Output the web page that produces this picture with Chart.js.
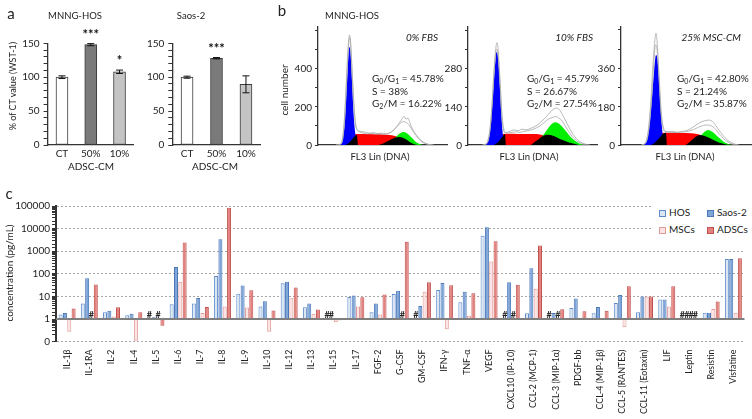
<!DOCTYPE html>
<html>
<head>
<meta charset="utf-8">
<script src="https://cdn.jsdelivr.net/npm/chart.js@4.4.0/dist/chart.umd.min.js"></script>
<style>
  body { margin: 0; width: 752px; height: 419px; overflow: hidden; background: #fff; position: relative; font-family: Lato, sans-serif; color: #222; }
  .box { position: absolute; }
  .t { position: absolute; white-space: nowrap; font-size: 10px; line-height: 1; transform: translate(-50%, -50%); }
  .l { transform: translate(0, -50%); }
  .r { transform: translate(-100%, -50%); }
  .rot { transform: translate(-50%, -50%) rotate(-90deg); }
  .p { font-size: 15px; }
  .i { font-style: italic; }
  .tick { z-index: 10; }
  sub { font-size: 7px; vertical-align: -2px; }
  .leg { position: absolute; font-size: 10px; line-height: 1; }
  .leg span { display: inline-block; width: 5px; height: 5px; border: 1px solid; margin-right: 3px; vertical-align: -1px; }
</style>
</head>
<body>

<div class="box" style="left:0;top:0"><canvas id="wstHos" width="140" height="175"></canvas></div>
<div class="box" style="left:130px;top:0"><canvas id="wstSaos" width="140" height="175"></canvas></div>
<div class="box" style="left:280px;top:0"><canvas id="hist1" width="175" height="170"></canvas></div>
<div class="box" style="left:430px;top:0"><canvas id="hist2" width="175" height="170"></canvas></div>
<div class="box" style="left:583px;top:0"><canvas id="hist3" width="175" height="170"></canvas></div>
<div class="box" style="left:0;top:190px"><canvas id="cyto" width="752" height="229"></canvas></div>

<!-- panel a -->
<div class="t p" style="left:11px;top:13px">a</div>
<div class="t" style="left:75px;top:16px;font-size:9.5px">MNNG-HOS</div>
<div class="t" style="left:191px;top:16px;font-size:9.5px">Saos-2</div>
<div class="t rot" style="left:12px;top:86px;font-size:9px">% of CT value (WST-1)</div>
<div class="t" style="left:91px;top:166px">ADSC-CM</div>
<div class="t" style="left:215px;top:166px">ADSC-CM</div>

<!-- panel b -->
<div class="t p" style="left:282px;top:10px">b</div>
<div class="t" style="left:352px;top:16px;font-size:9.5px">MNNG-HOS</div>
<div class="t rot" style="left:284px;top:90px">cell number</div>
<div class="t r i" style="left:438px;top:37px">0% FBS</div>
<div class="t r i" style="left:593px;top:37px">10% FBS</div>
<div class="t r i" style="left:741px;top:37px">25% MSC-CM</div>
<div class="t l" style="left:372px;top:79px">G<sub>0</sub>/G<sub>1</sub> = 45.78%</div>
<div class="t l" style="left:372px;top:91px">S = 38%</div>
<div class="t l" style="left:372px;top:104px">G<sub>2</sub>/M = 16.22%</div>
<div class="t l" style="left:527px;top:79px">G<sub>0</sub>/G<sub>1</sub> = 45.79%</div>
<div class="t l" style="left:527px;top:91px">S = 26.67%</div>
<div class="t l" style="left:527px;top:104px">G<sub>2</sub>/M = 27.54%</div>
<div class="t l" style="left:677px;top:79px">G<sub>0</sub>/G<sub>1</sub> = 42.80%</div>
<div class="t l" style="left:677px;top:91px">S = 21.24%</div>
<div class="t l" style="left:677px;top:104px">G<sub>2</sub>/M = 35.87%</div>
<div class="t" style="left:380px;top:157px;font-size:9.5px">FL3 Lin (DNA)</div>
<div class="t" style="left:529px;top:157px;font-size:9.5px">FL3 Lin (DNA)</div>
<div class="t" style="left:685px;top:157px;font-size:9.5px">FL3 Lin (DNA)</div>

<!-- panel c -->
<div class="t p" style="left:9px;top:193px">c</div>
<div class="t rot" style="left:9px;top:273px">concentration (pg/mL)</div>
<div style="position:absolute;left:653px;top:201px;width:99px;height:38px;background:#fff"></div>
<div class="leg" style="left:659px;top:207px"><span style="background:#dce6f2;border-color:#5d8ccc"></span>HOS</div>
<div class="leg" style="left:707px;top:207px"><span style="background:#7ea4d8;border-color:#4a78b8"></span>Saos-2</div>
<div class="leg" style="left:659px;top:224px"><span style="background:#fbe4e3;border-color:#e09a97"></span>MSCs</div>
<div class="leg" style="left:707px;top:224px"><span style="background:#e2827f;border-color:#c0504d"></span>ADSCs</div>

<script>
Chart.defaults.font.family = 'Lato, sans-serif';
Chart.defaults.font.size = 10;
Chart.defaults.color = '#222';
Chart.defaults.animation = false;
Chart.defaults.plugins.legend.display = false;
Chart.defaults.plugins.tooltip.enabled = false;

// panel a: WST-1 viability
const wstLabels = ['CT', '50%', '10%'];
const wstTicks = [0, 50, 100, 150];
const hosWst = [100, 148, 108];
const hosWstErr = [2, 1.5, 2.5];
const hosWstSig = ['', '***', '*'];
const saosWst = [100, 128, 89.5];
const saosWstErr = [1.5, 1, 12.5];
const saosWstSig = ['', '***', ''];

// panel b: cell cycle histograms, [channel, count]
const hist1Ticks = [0, 200, 400];
const hist1Grey1 = [[18,0],[22,3],[24,25],[26,110],[28,300],[30,500],[31.5,575],[32.5,540],[34,380],[36,190],[38,95],[40,75],[44,70],[48,66],[52,62],[56,64],[60,60],[64,62],[68,58],[72,64],[76,78],[80,105],[83,128],[86,150],[88,135],[90,140],[93,100],[96,70],[100,40],[104,20],[108,8],[112,2],[116,0]];
const hist1Grey2 = [[18,0],[23,5],[25,40],[27,160],[29,380],[31,545],[32,560],[33,500],[35,300],[37,140],[39,80],[42,68],[46,60],[50,58],[54,61],[58,57],[62,59],[66,55],[70,60],[74,70],[78,92],[82,112],[85,122],[88,118],[91,105],[94,80],[98,50],[102,25],[106,10],[110,3],[114,0]];
const hist1Black = [[27,0],[31,12],[35,35],[39,54],[40,0],[60,0],[66,10],[72,26],[77,38],[81,42],[85,38],[89,26],[93,12],[97,3],[100,0]];
const hist1Blue = [[21,0],[23,4],[25,30],[27,130],[29,320],[30.5,470],[31.5,513],[32.5,480],[34,330],[35.5,170],[37,70],[38.5,20],[40,0]];
const hist1Green = [[70,0],[74,18],[78,42],[81,58],[84,67],[86,68],[88,64],[91,52],[94,36],[97,20],[100,9],[103,2],[105,0]];
const hist1Red = [[33,0],[35,56],[45,57],[55,56],[65,55],[72,52],[78,46],[84,36],[90,20],[96,6],[100,0]];

const hist2Ticks = [0, 140, 280];
const hist2Grey1 = [[14,0],[18,4],[20,20],[22,60],[24,150],[26,270],[28,360],[29,374],[30,355],[32,240],[34,110],[36,55],[38,45],[42,50],[46,55],[50,52],[54,58],[58,55],[62,60],[66,66],[70,75],[74,88],[78,102],[82,120],[86,132],[89,135],[92,126],[96,100],[100,72],[104,45],[108,25],[112,12],[116,5],[120,1],[122,0]];
const hist2Grey2 = [[15,0],[19,6],[21,30],[23,90],[25,200],[27,310],[28.5,350],[30,330],[32,220],[34,100],[36,48],[40,44],[44,46],[48,48],[52,46],[56,50],[60,52],[64,56],[68,62],[72,70],[76,82],[80,94],[84,100],[88,104],[91,98],[94,88],[98,65],[102,42],[106,24],[110,12],[114,4],[118,0]];
const hist2Black = [[26,0],[30,10],[34,28],[37,40],[38,0],[62,0],[67,12],[72,26],[76,35],[80,37],[85,34],[90,26],[96,16],[102,8],[108,3],[112,0]];
const hist2Blue = [[17,0],[19,5],[21,25],[23,80],[25,180],[27,290],[28.5,340],[30,320],[31.5,240],[33,130],[34.5,50],[36,10],[37,0]];
const hist2Green = [[66,0],[70,12],[74,30],[78,50],[82,70],[85,80],[87,83],[90,80],[94,68],[98,50],[102,32],[106,18],[110,8],[114,2],[117,0]];
const hist2Red = [[32,0],[35,40],[45,41],[55,40],[65,40],[72,38],[78,32],[84,24],[90,12],[96,4],[100,0]];

const hist3Ticks = [0, 180, 360];
const hist3Grey1 = [[20,0],[24,8],[26,35],[28,100],[30,220],[32,380],[34,500],[35,525],[36,490],[38,330],[40,170],[42,90],[44,65],[48,62],[52,64],[56,60],[60,63],[64,66],[68,72],[72,84],[76,96],[80,108],[84,114],[88,117],[91,112],[94,96],[98,70],[102,45],[106,25],[110,12],[114,4],[118,0]];
const hist3Grey2 = [[21,0],[25,12],[27,45],[29,125],[31,250],[33,400],[34.5,470],[36,450],[38,310],[40,150],[42,80],[45,62],[50,60],[55,58],[60,60],[65,62],[70,68],[75,78],[80,88],[85,94],[89,92],[93,82],[97,60],[101,38],[105,20],[109,8],[113,2],[116,0]];
const hist3Black = [[30,0],[34,12],[38,32],[42,52],[45,57],[46,0],[64,0],[68,12],[72,28],[76,42],[79,47],[83,44],[88,34],[93,22],[98,12],[103,5],[108,1],[110,0]];
const hist3Blue = [[22,0],[25,10],[27,40],[29,110],[31,220],[33,340],[35,423],[36.5,400],[38,300],[39.5,180],[41,80],[42.5,25],[44,0]];
const hist3Green = [[72,0],[76,20],[80,45],[84,63],[87,70],[90,66],[94,52],[98,34],[102,18],[106,7],[110,1],[112,0]];
const hist3Red = [[36,0],[40,56],[50,57],[60,56],[70,55],[76,52],[82,44],[88,32],[94,18],[100,6],[104,0]];

// panel c: cytokine concentrations (pg/mL), null = not detected (#)
const cytokines = ['IL-1β','IL-1RA','IL-2','IL-4','IL-5','IL-6','IL-7','IL-8','IL-9','IL-10','IL-12','IL-13','IL-15','IL-17','FGF-2','G-CSF','GM-CSF','IFN-γ','TNF-α','VEGF','CXCL10 (IP-10)','CCL-2 (MCP-1)','CCL-3 (MIP-1α)','PDGF-bb','CCL-4 (MIP-1β)','CCL-5 (RANTES)','CCL-11 (Eotaxin)','LIF','Leptin','Resistin','Visfatine'];
const hosConc = [1.6, 4.9, 2.0, 1.45, null, 4.5, 4.9, 80, 13, 3.6, 38, 3.3, null, 9.4, 2.0, 12.8, null, 19, 5.5, 4800, null, 1.8, null, 3.1, 1.8, 5.1, 2.0, 7.2, null, 1.9, 455];
const saosConc = [1.85, 63, 2.3, 1.7, 1.2, 200, 8.5, 3400, 30, 6.1, 45, 4.9, null, 11, 4.8, 18, 3.8, 39, 16, 11500, 42, 175, 1.85, 8, 3.4, 11.6, 10, 7.2, null, 1.9, 455];
const mscConc = [0.27, null, 1.3, 0.11, null, 45, 1.85, 3.6, 3.2, 0.27, 8.3, 1.7, 0.71, 3.6, 1.6, null, 16, 0.35, 1.4, 350, null, 22, null, 1.15, 1.1, 0.43, 10, 3.6, null, 2.8, 1.9];
const adscConc = [2.9, 34, 3.3, 2.0, 0.5, 2400, 3.4, 83000, 18.6, 2.4, 25, 2.6, 0.87, 9.1, 12, 2600, 42, 31, 13.7, 2750, 33, 1780, 2.7, 2.2, 2.3, 28, 10, 28, null, 5.9, 490];
const concTickValues = [0.1, 1, 10, 100, 1000, 10000, 100000];
const concTickLabels = ['0', '1', '10', '100', '1000', '10000', '100000'];

const AXIS = '#333';

function errorBars(errs, sig) {
  return {
    id: 'errorBars',
    afterDatasetsDraw(chart) {
      const ctx = chart.ctx;
      const y = chart.scales.y;
      const vals = chart.data.datasets[0].data;
      ctx.save();
      ctx.strokeStyle = '#111';
      ctx.lineWidth = 1;
      chart.getDatasetMeta(0).data.forEach((bar, i) => {
        const hi = y.getPixelForValue(vals[i] + errs[i]);
        const lo = y.getPixelForValue(vals[i] - errs[i]);
        ctx.beginPath();
        ctx.moveTo(bar.x, hi); ctx.lineTo(bar.x, lo);
        ctx.moveTo(bar.x - 3.5, hi); ctx.lineTo(bar.x + 3.5, hi);
        ctx.moveTo(bar.x - 3.5, lo); ctx.lineTo(bar.x + 3.5, lo);
        ctx.stroke();
        if (sig[i]) {
          ctx.fillStyle = '#111';
          ctx.font = 'bold 13px Lato';
          ctx.textAlign = 'center';
          ctx.textBaseline = 'alphabetic';
          ctx.fillText(sig[i], bar.x, hi - 5);
        }
      });
      ctx.restore();
    }
  };
}

function wstChart(id, values, errs, sig, yWidth, rightPad) {
  new Chart(document.getElementById(id), {
    type: 'bar',
    data: {
      labels: wstLabels,
      datasets: [{
        data: values,
        backgroundColor: ['#ffffff', '#7a7a7a', '#c4c4c4'],
        borderColor: '#3a3a3a',
        borderWidth: 1,
        borderSkipped: false,
        barThickness: 12
      }]
    },
    options: {
      responsive: false,
      layout: { padding: { top: 43.3, right: rightPad } },
      scales: {
        x: {
          grid: { display: false, drawTicks: false },
          border: { color: AXIS, width: 1.3 },
          ticks: { padding: 3, maxRotation: 0, minRotation: 0, autoSkip: false },
          afterFit: s => { s.height = 30; }
        },
        y: {
          min: 0, max: 150,
          grid: { drawOnChartArea: false, tickLength: 4, tickColor: AXIS },
          border: { color: AXIS, width: 1.3 },
          ticks: { stepSize: 10, autoSkip: false, padding: 4, callback: v => wstTicks.includes(v) ? String(v) : '' },
          afterFit: s => { s.width = yWidth; }
        }
      }
    },
    plugins: [errorBars(errs, sig)]
  });
}

wstChart('wstHos', hosWst, hosWstErr, hosWstSig, 47.6, 6.1);
wstChart('wstSaos', saosWst, saosWstErr, saosWstSig, 42.3, 9.3);

function area(pts, color) {
  return {
    data: pts.map(p => ({ x: p[0], y: p[1] })),
    backgroundColor: color, borderColor: color, borderWidth: 0,
    fill: 'origin', pointRadius: 0, cubicInterpolationMode: 'monotone'
  };
}
function trace(pts) {
  return {
    data: pts.map(p => ({ x: p[0], y: p[1] })),
    borderColor: '#a9a9a9', borderWidth: 0.8,
    fill: false, pointRadius: 0, cubicInterpolationMode: 'monotone'
  };
}

function histChart(id, boxLeft, grey1, grey2, black, blue, green, red, yMax, step, tickLabels, xMax, rightPad) {
  const chart = new Chart(document.getElementById(id), {
    type: 'line',
    data: {
      datasets: [trace(grey1), trace(grey2), area(black, '#000000'), area(blue, '#0000ff'),
                 area(green, '#00ee00'), area(red, '#ff0000')]
    },
    options: {
      responsive: false,
      layout: { padding: { top: 27, right: rightPad } },
      scales: {
        x: {
          type: 'linear', min: 0, max: xMax,
          grid: { display: false, drawTicks: false },
          ticks: { display: false },
          border: { color: AXIS, width: 1.3 },
          afterFit: s => { s.height = 25; }
        },
        y: {
          min: 0, max: yMax,
          grid: { drawOnChartArea: false, tickLength: 3, tickColor: AXIS },
          border: { color: AXIS, width: 1.3 },
          ticks: { stepSize: step, includeBounds: false, autoSkip: false, display: false },
          afterFit: s => { s.width = 38; }
        }
      }
    }
  });
  // tick labels placed from the chart's own y scale
  const y = chart.scales.y;
  tickLabels.forEach(v => {
    const d = document.createElement('div');
    d.className = 't r tick';
    d.style.left = (boxLeft + y.right - 6) + 'px';
    d.style.top = y.getPixelForValue(v) + 'px';
    d.textContent = String(v);
    document.body.appendChild(d);
  });
  return chart;
}

histChart('hist1', 280, hist1Grey1, hist1Grey2, hist1Black, hist1Blue, hist1Green, hist1Red, 616, 100, hist1Ticks, 129, 8);
histChart('hist2', 430, hist2Grey1, hist2Grey2, hist2Black, hist2Blue, hist2Green, hist2Red, 431, 70, hist2Ticks, 129, 8);
histChart('hist3', 583, hist3Grey1, hist3Grey2, hist3Black, hist3Blue, hist3Green, hist3Red, 554, 90, hist3Ticks, 130, 7);

function decadeIndex(v) {
  return concTickValues.findIndex(t => Math.abs(t - v) / t < 1e-6);
}

const cytoPlugin = {
  id: 'cyto',
  afterDatasetsDraw(chart) {
    const { ctx, chartArea: a, scales: { y } } = chart;
    const y1 = y.getPixelForValue(1);
    ctx.save();
    ctx.strokeStyle = '#7f7f7f';
    ctx.lineWidth = 2;
    ctx.beginPath();
    ctx.moveTo(a.left, y1);
    ctx.lineTo(a.right, y1);
    ctx.stroke();
    ctx.fillStyle = '#222';
    ctx.font = 'bold 9px Lato';
    ctx.textAlign = 'center';
    ctx.textBaseline = 'alphabetic';
    chart.data.datasets.forEach((ds, di) => {
      const meta = chart.getDatasetMeta(di);
      ds.data.forEach((v, i) => {
        if (v === null) ctx.fillText('#', meta.data[i].x, y1 - 1.5);
      });
    });
    ctx.restore();
  }
};

function cytoSet(label, values, fill, border) {
  return {
    label: label,
    data: values.map(v => v === null ? null : [1, v]),
    backgroundColor: fill, borderColor: border, borderWidth: 1, borderSkipped: false
  };
}

new Chart(document.getElementById('cyto'), {
  type: 'bar',
  data: {
    labels: cytokines,
    datasets: [
      cytoSet('HOS', hosConc, '#dce6f2', '#5d8ccc'),
      cytoSet('Saos-2', saosConc, '#7ea4d8', '#4a78b8'),
      cytoSet('MSCs', mscConc, '#fbe4e3', '#e09a97'),
      cytoSet('ADSCs', adscConc, '#e2827f', '#c0504d')
    ]
  },
  options: {
    responsive: false,
    layout: { padding: { top: 16, right: 4 } },
    datasets: { bar: { categoryPercentage: 0.78, barPercentage: 0.92 } },
    scales: {
      x: {
        grid: { display: false, drawTicks: false },
        border: { display: false },
        ticks: { minRotation: 90, maxRotation: 90, autoSkip: false, padding: 8, font: { size: 8.8 } },
        afterFit: s => { s.height = 77.4; }
      },
      y: {
        type: 'logarithmic', min: 0.1, max: 100000,
        grid: {
          color: c => (c.tick && decadeIndex(c.tick.value) >= 0 && decadeIndex(c.tick.value) !== 1) ? '#a6a6a6' : 'rgba(0,0,0,0)',
          tickColor: AXIS, tickLength: 4, lineWidth: 1
        },
        border: { color: AXIS, width: 2, dash: [2, 2] },
        ticks: {
          autoSkip: false, padding: 2,
          callback: v => { const k = decadeIndex(v); return k >= 0 ? concTickLabels[k] : ''; }
        },
        afterFit: s => { s.width = 56; }
      }
    }
  },
  plugins: [cytoPlugin]
});
</script>
</body>
</html>
